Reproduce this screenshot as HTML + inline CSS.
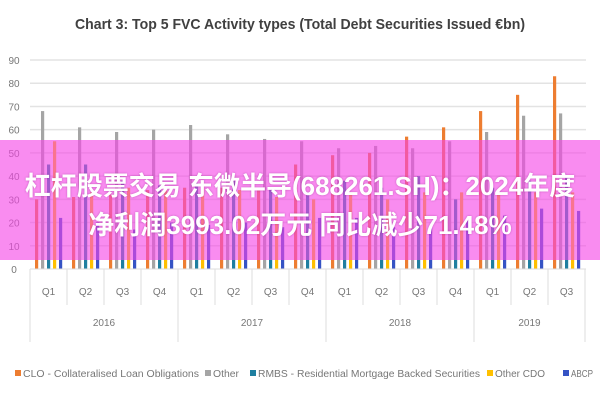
<!DOCTYPE html>
<html><head><meta charset="utf-8"><style>
body{margin:0;background:#fff;width:600px;height:400px;overflow:hidden;position:relative;font-family:"Liberation Sans",sans-serif}
#ov{position:absolute;left:0;top:140px;width:600px;height:120px;background:rgba(246,70,230,0.62)}
.ot{position:absolute;left:0;width:600px;text-align:center;color:#fff;font-weight:bold;font-size:26px;font-family:"Liberation Sans","Noto Sans CJK SC",sans-serif;white-space:nowrap;text-shadow:0 0 2px rgba(120,0,110,0.4)}
</style></head><body>
<svg id="chart" width="600" height="400" style="position:absolute;left:0;top:0">
<text x="300" y="29" text-anchor="middle" font-size="15" font-weight="bold" fill="#404040" textLength="450" lengthAdjust="spacingAndGlyphs">Chart 3: Top 5 FVC Activity types (Total Debt Securities Issued €bn)</text>
<g id="grid"></g><g id="bars"></g><g id="axis"></g><g id="legend"></g>
</svg>
<div id="ov"></div>
<div class="ot" style="top:166px">杠杆股票交易 东微半导(688261.SH)：2024年度</div>
<div class="ot" style="top:205px">净利润3993.02万元 同比减少71.48%</div>
<script>
const quarters=["Q1","Q2","Q3","Q4","Q1","Q2","Q3","Q4","Q1","Q2","Q3","Q4","Q1","Q2","Q3"];
const years=["2016","2017","2018","2019"];
const yearCounts=[4,4,4,3];
const seriesNames=["CLO - Collateralised Loan Obligations","Other","RMBS - Residential Mortgage Backed Securities","Other CDO","ABCP"];
const seriesColors=["#ed7d31","#a5a5a5","#1f7fa0","#ffc000","#3553c4"];
const cloValues=[30,31,32,34,35,35,35,45,49,50,57,61,68,75,83];
const otherValues=[68,61,59,60,62,58,56,55,52,53,52,55,59,66,67];
const rmbsValues=[45,45,38,36,37,38,35,33,38,35,40,30,35,38,40];
const cdoValues=[55,33,35,35,35,34,31,30,33,30,33,33,33,33,33];
const abcpValues=[22,20,17,20,19,20,18,22,22,18,18,22,23,26,25];
const yTicks=[0,10,20,30,40,50,60,70,80,90];
const series=[cloValues,otherValues,rmbsValues,cdoValues,abcpValues];
const NS="http://www.w3.org/2000/svg";
const x0=30,gw=37,yb=269,yt=60,ymax=90;
const y=v=>yb-(v/ymax)*(yb-yt);
function mk(t,a,p){const e=document.createElementNS(NS,t);for(const k in a)e.setAttribute(k,a[k]);p.appendChild(e);return e;}
const grid=document.getElementById('grid'),bars=document.getElementById('bars'),axis=document.getElementById('axis'),lg=document.getElementById('legend');
yTicks.forEach(t=>{
 if(t>0){const l=mk('line',{x1:x0,x2:586,y1:y(t),y2:y(t),stroke:'#e3e3e3','stroke-width':1.5},grid);
 
 }
 const tx=mk('text',{x:14,y:y(t)+4,'font-size':10,fill:'#777','text-anchor':'middle'},axis);tx.textContent=t;
 
 
});
quarters.forEach((q,i)=>{
 series.forEach((s,j)=>{
  const bx=x0+i*gw+5+j*6;
  const r=mk('rect',{x:bx,y:y(s[i]),width:3.2,height:yb-y(s[i]),fill:seriesColors[j]},bars);
  
  
 });
 const t=mk('text',{x:x0+i*gw+gw/2,y:295,'font-size':10,fill:'#777','text-anchor':'middle'},axis);t.textContent=q;
 
 
});
mk('line',{x1:x0,x2:586,y1:yb,y2:yb,stroke:'#ddd'},axis);
let idx=0;
for(let i=0;i<=quarters.length;i++){mk('line',{x1:x0+i*gw,x2:x0+i*gw,y1:yb,y2:305,stroke:'#ddd'},axis);}
years.forEach((yr,k)=>{
 mk('line',{x1:x0+idx*gw,x2:x0+idx*gw,y1:305,y2:342,stroke:'#ddd'},axis);
 const t=mk('text',{x:x0+(idx+yearCounts[k]/2)*gw,y:326,'font-size':10,fill:'#777','text-anchor':'middle'},axis);t.textContent=yr;
 
 
 idx+=yearCounts[k];
});
mk('line',{x1:x0+idx*gw,x2:x0+idx*gw,y1:305,y2:342,stroke:'#ddd'},axis);
const lx=[15,205,250,487,563],lw=[176,26,222,50,22];
seriesNames.forEach((n,j)=>{
 const g=mk('g',{},lg);
 
 
 mk('rect',{x:lx[j],y:370,width:6,height:6,fill:seriesColors[j]},g);
 const t=mk('text',{x:lx[j]+8,y:377,'font-size':10,fill:'#777',textLength:lw[j],lengthAdjust:'spacingAndGlyphs'},g);t.textContent=n;
});
</script>
</body></html>
